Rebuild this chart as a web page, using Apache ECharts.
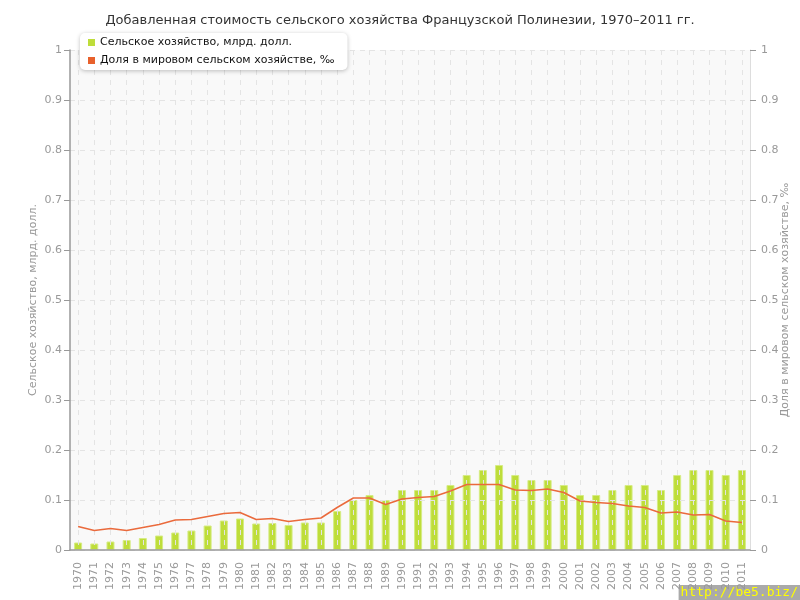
<!DOCTYPE html>
<html><head><meta charset="utf-8">
<script src="https://cdn.jsdelivr.net/npm/echarts@6/dist/echarts.min.js"></script>
<style>html,body{margin:0;padding:0;background:#fff}#c{width:800px;height:600px}</style>
</head><body><div id="c"></div>
<script>
const years = ['1970','1971','1972','1973','1974','1975','1976','1977','1978','1979','1980','1981','1982','1983','1984','1985','1986','1987','1988','1989','1990','1991','1992','1993','1994','1995','1996','1997','1998','1999','2000','2001','2002','2003','2004','2005','2006','2007','2008','2009','2010','2011'];
const agriValue = [0.015,0.013,0.017,0.02,0.024,0.029,0.035,0.039,0.049,0.059,0.063,0.053,0.054,0.05,0.055,0.055,0.078,0.1,0.11,0.1,0.12,0.12,0.12,0.13,0.15,0.16,0.17,0.15,0.14,0.14,0.13,0.11,0.11,0.12,0.13,0.13,0.12,0.15,0.16,0.16,0.15,0.16];
const worldShare = [0.047,0.039,0.043,0.039,0.045,0.051,0.06,0.061,0.067,0.073,0.075,0.061,0.063,0.057,0.061,0.064,0.085,0.104,0.104,0.091,0.102,0.105,0.107,0.118,0.131,0.131,0.131,0.12,0.119,0.122,0.115,0.098,0.095,0.093,0.088,0.085,0.074,0.076,0.07,0.071,0.058,0.055];
const titleText = 'Добавленная стоимость сельского хозяйства Французской Полинезии, 1970–2011 гг.';
const seriesNames = ['Сельское хозяйство, млрд. долл.','Доля в мировом сельском хозяйстве, ‰'];
const leftAxisName = 'Сельское хозяйство, млрд. долл.';
const rightAxisName = 'Доля в мировом сельском хозяйстве, ‰';

const font = 'DejaVu Sans';
const grey = '#999';
const chart = echarts.init(document.getElementById('c'));
const yAxisCommon = {
  type:'value', min:0, max:1, interval:0.1,
  nameLocation:'middle', nameMoveOverlap:false,
  nameTextStyle:{color:grey, fontFamily:font, fontSize:11},
  axisLabel:{color:grey, fontFamily:font, fontSize:11, formatter:v=>String(+v.toFixed(1))},
  axisTick:{show:true, length:6, lineStyle:{color:grey}},
};
chart.setOption({
  animation:false,
  textStyle:{fontFamily:font},
  title:{text:titleText, left:'center', top:9, textStyle:{fontFamily:font, fontSize:13, fontWeight:'normal', color:'#333'}},
  legend:{
    data:seriesNames, orient:'vertical', left:80, top:33,
    itemWidth:7, itemHeight:7, itemGap:7, icon:'rect',
    itemStyle:{borderWidth:0},
    textStyle:{fontFamily:font, fontSize:11, color:'#111'},
    backgroundColor:'#fff', borderRadius:5, padding:[4,13,4,8],
    shadowColor:'rgba(0,0,0,0.25)', shadowBlur:4, shadowOffsetY:1
  },
  grid:{left:70, right:50, top:50, bottom:50, containLabel:false, outerBoundsMode:'none',
        show:true, backgroundColor:'#f9f9f9', borderColor:'#ddd', borderWidth:0},
  xAxis:{
    type:'category', data:years, boundaryGap:true, z:3,
    axisLine:{lineStyle:{color:grey, width:1.5}},
    axisTick:{alignWithLabel:true, length:6, lineStyle:{color:grey}},
    axisLabel:{rotate:90, color:grey, fontFamily:font, fontSize:11, interval:0, margin:12},
    splitLine:{show:true, alignWithLabel:true, lineStyle:{color:'#e4e4e4', type:[5,5]}}
  },
  yAxis:[
    Object.assign({}, yAxisCommon, {
      name:leftAxisName, nameGap:31, position:'left', z:3,
      axisLine:{show:true, lineStyle:{color:grey, width:1.5}},
      splitLine:{show:true, lineStyle:{color:'#e4e4e4', type:[5,5]}}
    }),
    Object.assign({}, yAxisCommon, {
      name:rightAxisName, nameGap:30, position:'right',
      nameRotate:90,
      axisLabel:Object.assign({}, yAxisCommon.axisLabel, {margin:11}),
      axisLine:{show:true, lineStyle:{color:'#ddd', width:1}},
      splitLine:{show:false}
    })
  ],
  series:[
    {name:seriesNames[0], type:'bar', data:agriValue, yAxisIndex:0, barWidth:8,
     itemStyle:{color:'#bedd3a', borderColor:'#d6ec84', borderWidth:1}},
    {name:seriesNames[1], type:'line', data:worldShare, yAxisIndex:1, symbol:'none', z:5,
     lineStyle:{color:'#ea6a3c', width:1.5}, itemStyle:{color:'#e8612c'}}
  ],
  graphic:[{
    type:'text', right:0, bottom:0,
    style:{text:'http://be5.biz/', fill:'#ffff00', font:'13px "DejaVu Sans Mono", monospace', backgroundColor:'#aaa', padding:[1,2,1,2]}
  }]
});
</script></body></html>
